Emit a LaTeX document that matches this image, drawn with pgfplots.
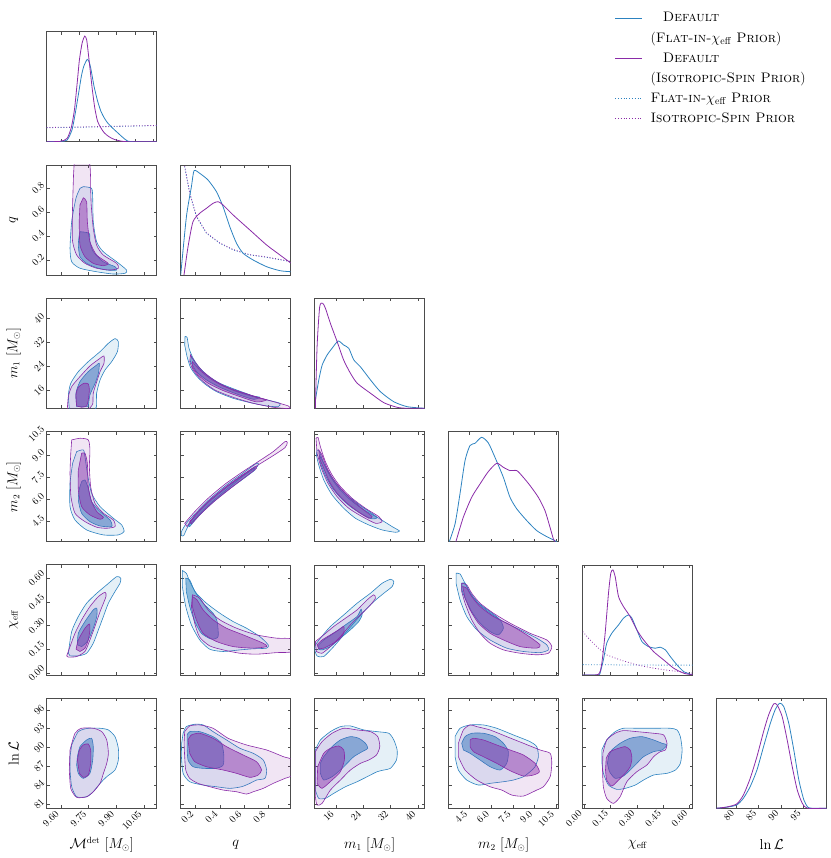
\documentclass[border=0pt]{standalone}
\usepackage{graphicx}
\usepackage{pgfplots}
\pgfplotsset{compat=1.18}
\usepgfplotslibrary{groupplots}
\definecolor{cb}{RGB}{44,130,192}
\definecolor{cp}{RGB}{138,43,168}
\newcommand{\R}[1]{\rotatebox{45}{$#1$}}
\pgfplotsset{legend image code/.code={\draw[#1] (0cm,0cm) -- (0.95cm,0cm);}}
\pgfplotsset{
  corner/.style={width=110pt,height=110pt,scale only axis,
    tick align=inside, xtick pos=both, ytick pos=both,
    major tick length=3pt,
    axis line style={draw=black!70,line width=0.8pt},
    tick style={black!70,line width=0.5pt},
    xticklabels={}, yticklabels={},
    xticklabel style={anchor=north east,inner sep=1.5pt},
    yticklabel style={anchor=east,inner sep=1.5pt},
    tick label style={font=\fontsize{10}{12}\selectfont},
    label style={font=\fontsize{13.5}{16}\selectfont},
    xlabel style={at={(axis description cs:0.5,-0.33)},anchor=center},
    ylabel style={at={(axis description cs:-0.3,0.5)},anchor=center},
  },
  cA/.style={xmin=9.5225,xmax=10.119,xtick={9.60,9.75,9.90,10.05}},
  cB/.style={xmin=0.075,xmax=0.989,xtick={0.2,0.4,0.6,0.8}},
  cC/.style={xmin=9.7,xmax=42.0,xtick={16,24,32,40}},
  cD/.style={xmin=3.05,xmax=10.66,xtick={4.5,6.0,7.5,9.0,10.5}},
  cE/.style={xmin=-0.0074,xmax=0.617,xtick={0,0.15,0.30,0.45,0.60}},
  rB/.style={ymin=0.076,ymax=0.99,ytick={0.2,0.4,0.6,0.8}},
  rC/.style={ymin=10.0,ymax=46.67,ytick={16,24,32,40}},
  rD/.style={ymin=3.07,ymax=10.66,ytick={4.5,6.0,7.5,9.0,10.5}},
  rE/.style={ymin=-0.011,ymax=0.684,ytick={0,0.15,0.30,0.45,0.60}},
  rF/.style={ymin=80.3,ymax=97.87,ytick={81,84,87,90,93,96}},
  oneD/.style={ymin=0,ymax=110,ytick=\empty},
  bo/.style={draw=cb,fill=cb,fill opacity=0.12,line width=0.6pt,smooth,tension=0.4},
  bi/.style={draw=cb,fill=cb,fill opacity=0.5,line width=0.6pt,smooth,tension=0.4},
  po/.style={draw=cp,fill=cp,fill opacity=0.12,line width=0.6pt,smooth,tension=0.4},
  pi/.style={draw=cp,fill=cp,fill opacity=0.45,line width=0.6pt,smooth,tension=0.4},
  bl/.style={draw=cb,line width=0.8pt,smooth,tension=0.4},
  pl/.style={draw=cp,line width=0.8pt,smooth,tension=0.4},
  bd/.style={draw=cb,line width=0.8pt,dotted},
  pd/.style={draw=cp,line width=0.8pt,dotted},
}
\begin{document}
\begin{tikzpicture}
\begin{groupplot}[group style={group size=6 by 6,horizontal sep=24pt,vertical sep=23.3pt,group name=G},corner]
% ---------------- row 1
\nextgroupplot[cA,oneD,xtick={9.6,9.7,9.8,9.9,10.0,10.1},
  legend style={at={(axis description cs:5.135,1.213)},anchor=north west,draw=none,fill=none,
   font=\fontsize{13.8}{16}\selectfont,legend cell align=left,row sep=4.8pt,column sep=6pt}]
\addlegendimage{color=cb,solid,line width=0.8pt}
\addlegendimage{empty legend}
\addlegendimage{color=cp,solid,line width=0.8pt}
\addlegendimage{empty legend}
\addlegendimage{color=cb,dotted,line width=0.8pt}
\addlegendimage{color=cp,dotted,line width=0.8pt}
\legend{\hspace{0.9em}\textsc{Default},(\textsc{Flat-in-}$\chi_{\rm eff}$ \textsc{Prior}),\hspace{0.9em}\textsc{Default},(\textsc{Isotropic-Spin Prior}),\textsc{Flat-in-}$\chi_{\rm eff}$ \textsc{Prior},\textsc{Isotropic-Spin Prior}}
\addplot[bd] coordinates {(9.5225,14)(9.7,14.4)(9.9,15.2)(10.119,16.1)};
\addplot[pd] coordinates {(9.5225,14.2)(9.7,14.7)(9.9,15.5)(10.119,16.3)};
\addplot[bl] coordinates {(9.5225,0)(9.596,0.3)(9.633,1.6)(9.660,12)(9.678,29)(9.696,49)(9.711,66)(9.724,75.6)(9.742,82.3)(9.752,80)(9.761,74)(9.779,55.6)(9.798,41)(9.816,30.6)(9.834,24)(9.852,19)(9.880,13.6)(9.907,9)(9.935,4.3)(9.962,0.6)(9.999,0)(10.119,0)};
\addplot[pl] coordinates {(9.5225,0)(9.596,0.3)(9.633,3.3)(9.656,14.3)(9.673,32)(9.688,59)(9.700,82)(9.715,99)(9.729,105.6)(9.739,102)(9.746,92)(9.758,72)(9.770,52)(9.783,34)(9.798,20.6)(9.816,14)(9.834,9)(9.860,5)(9.889,2.3)(9.926,0.6)(9.962,0)(10.119,0)};
\nextgroupplot[group/empty plot]
\nextgroupplot[group/empty plot]
\nextgroupplot[group/empty plot]
\nextgroupplot[group/empty plot]
\nextgroupplot[group/empty plot]
% ---------------- row 2
\nextgroupplot[cA,rB,ylabel={$q$},yticklabels={\R{0.2},\R{0.4},\R{0.6},\R{0.8}}]
\addplot[bo] coordinates {(9.721,0.810)(9.766,0.796)(9.772,0.713)(9.775,0.519)(9.793,0.353)(9.829,0.270)(9.902,0.186)(9.956,0.117)(9.947,0.090)(9.883,0.084)(9.793,0.103)(9.703,0.132)(9.658,0.186)(9.649,0.298)(9.658,0.519)(9.681,0.713)(9.703,0.796)} -- cycle;
\addplot[bi] coordinates {(9.703,0.436)(9.753,0.422)(9.757,0.353)(9.775,0.270)(9.829,0.186)(9.893,0.145)(9.902,0.117)(9.848,0.117)(9.793,0.137)(9.739,0.173)(9.703,0.228)(9.694,0.325)(9.699,0.408)} -- cycle;
\addplot[po] coordinates {(9.672,1.02)(9.750,1.02)(9.760,0.907)(9.761,0.796)(9.764,0.658)(9.775,0.464)(9.793,0.325)(9.829,0.242)(9.902,0.173)(9.911,0.132)(9.866,0.117)(9.793,0.132)(9.730,0.173)(9.685,0.242)(9.663,0.353)(9.661,0.519)(9.664,0.713)(9.668,0.907)} -- cycle;
\addplot[pi] coordinates {(9.721,0.718)(9.739,0.685)(9.743,0.519)(9.757,0.353)(9.793,0.242)(9.856,0.173)(9.829,0.153)(9.775,0.173)(9.730,0.228)(9.703,0.325)(9.699,0.519)(9.703,0.658)} -- cycle;
\nextgroupplot[cB,oneD]
\addplot[bd] coordinates {(0.108,108.3)(0.15,81.7)(0.206,58.3)(0.289,41.7)(0.4,31.7)(0.511,25)(0.65,20)(0.789,17.7)(0.989,13.3)};
\addplot[pd] coordinates {(0.108,109)(0.15,82)(0.206,58.8)(0.289,42.2)(0.4,32)(0.511,25.5)(0.65,20.3)(0.789,18)(0.989,13.6)};
\addplot[bl] coordinates {(0.075,0)(0.1225,58.3)(0.164,88.3)(0.186,104.3)(0.233,101.7)(0.302,95)(0.372,83.3)(0.427,68.3)(0.483,48.3)(0.539,31.7)(0.594,21.7)(0.677,15)(0.789,8.3)(0.9,4.3)(0.989,3.3)};
\addplot[pl] coordinates {(0.1025,0)(0.136,28.3)(0.177,53.3)(0.233,61.7)(0.289,66.7)(0.344,71.7)(0.386,73.3)(0.427,70)(0.511,60)(0.58,52.5)(0.650,45)(0.789,30)(0.9,20)(0.989,12)};
\nextgroupplot[group/empty plot]
\nextgroupplot[group/empty plot]
\nextgroupplot[group/empty plot]
\nextgroupplot[group/empty plot]
% ---------------- row 3
\nextgroupplot[cA,rC,ylabel={$m_1\ [M_\odot]$},yticklabels={\R{16},\R{24},\R{32},\R{40}}]
\addplot[bo] coordinates {(9.645,10.0)(9.640,14.45)(9.653,18.34)(9.694,22.23)(9.748,25.56)(9.812,28.89)(9.857,31.67)(9.893,33.23)(9.911,32.23)(9.906,28.89)(9.875,25.56)(9.839,22.78)(9.812,19.45)(9.793,15.0)(9.784,9.5)(9.645,9.5)} -- cycle;
\addplot[bi] coordinates {(9.685,10.56)(9.681,15.0)(9.703,18.9)(9.748,22.23)(9.794,24.45)(9.808,25.0)(9.803,21.67)(9.785,18.34)(9.757,14.45)(9.748,10.56)} -- cycle;
\addplot[po] coordinates {(9.634,9.5)(9.640,13.9)(9.658,17.23)(9.703,20.56)(9.757,24.12)(9.812,26.67)(9.833,27.45)(9.833,25.0)(9.812,22.23)(9.794,18.9)(9.775,15.0)(9.772,11.45)(9.748,9.5)} -- cycle;
\addplot[pi] coordinates {(9.685,10.78)(9.681,14.45)(9.694,17.0)(9.725,18.34)(9.748,18.12)(9.754,16.12)(9.748,12.78)(9.739,10.78)(9.712,10.34)} -- cycle;
\nextgroupplot[cB,rC]
\addplot[bo] coordinates {(0.111,33.9)(0.128,33.67)(0.144,30.0)(0.178,26.67)(0.228,23.67)(0.303,20.79)(0.400,18.12)(0.539,15.56)(0.678,13.9)(0.817,12.56)(0.900,11.67)(0.886,10.56)(0.789,10.79)(0.650,11.9)(0.511,13.34)(0.372,15.56)(0.275,18.12)(0.206,20.79)(0.156,23.67)(0.128,27.23)(0.108,31.12)} -- cycle;
\addplot[bi] coordinates {(0.164,27.23)(0.206,24.45)(0.289,21.12)(0.400,18.34)(0.539,16.12)(0.678,14.12)(0.733,13.67)(0.678,13.01)(0.539,14.79)(0.400,17.01)(0.289,19.45)(0.206,22.23)(0.156,25.56)} -- cycle;
\addplot[po] coordinates {(0.156,27.78)(0.192,25.56)(0.261,22.23)(0.372,18.9)(0.511,16.12)(0.678,14.12)(0.844,12.23)(0.969,10.79)(0.977,9.9)(0.844,10.34)(0.678,11.67)(0.511,13.67)(0.358,16.12)(0.247,19.45)(0.178,22.79)(0.150,25.56)} -- cycle;
\addplot[pi] coordinates {(0.172,25.56)(0.233,22.79)(0.317,20.0)(0.428,17.45)(0.567,15.56)(0.705,13.67)(0.789,12.79)(0.705,12.12)(0.567,13.9)(0.428,15.9)(0.303,18.34)(0.220,21.12)(0.172,23.67)} -- cycle;
\nextgroupplot[cC,oneD]
\addplot[bl] coordinates {(9.9,8.3)(10.9,28.3)(11.9,43.3)(13.35,53.3)(14.8,60)(16.6,67.3)(18.2,63.3)(19.7,60)(21.2,48.3)(23.1,41.6)(26.1,28.3)(29.0,16.6)(32.9,6.6)(36.9,1.6)(42.0,0)};
\addplot[pl] coordinates {(9.9,0)(10.4,61.6)(11.17,101.6)(12.05,105)(12.85,100)(14.3,85)(16.3,66.6)(18.2,48.3)(20.2,35)(22.2,25)(26.1,15)(30.0,5.6)(33.9,1)(36.9,0)(42,0)};
\nextgroupplot[group/empty plot]
\nextgroupplot[group/empty plot]
\nextgroupplot[group/empty plot]
% ---------------- row 4
\nextgroupplot[cA,rD,ylabel={$m_2\ [M_\odot]$},yticklabels={\R{4.5},\R{6.0},\R{7.5},\R{9.0},\R{10.5}}]
\addplot[bo] coordinates {(9.685,9.28)(9.721,9.40)(9.730,8.935)(9.743,7.785)(9.766,6.405)(9.812,5.485)(9.884,4.68)(9.929,4.22)(9.942,3.76)(9.911,3.53)(9.830,3.53)(9.739,3.875)(9.676,4.565)(9.649,5.485)(9.649,7.095)(9.663,8.475)} -- cycle;
\addplot[bi] coordinates {(9.712,7.21)(9.730,7.325)(9.748,6.75)(9.766,5.83)(9.812,5.14)(9.866,4.565)(9.875,4.105)(9.812,4.15)(9.757,4.45)(9.712,5.025)(9.694,5.945)(9.700,6.75)} -- cycle;
\addplot[po] coordinates {(9.658,10.085)(9.703,10.2)(9.748,10.09)(9.757,9.40)(9.754,8.245)(9.761,6.865)(9.784,5.715)(9.830,5.025)(9.884,4.565)(9.893,4.105)(9.848,3.99)(9.794,4.06)(9.730,4.45)(9.676,5.025)(9.654,6.175)(9.649,7.785)(9.653,9.165)} -- cycle;
\addplot[pi] coordinates {(9.712,9.165)(9.730,9.165)(9.743,8.475)(9.748,6.865)(9.766,5.83)(9.794,5.14)(9.830,4.75)(9.812,4.61)(9.757,4.91)(9.712,5.485)(9.694,6.635)(9.694,8.015)} -- cycle;
\nextgroupplot[cB,rD]
\addplot[bo] coordinates {(0.081,3.76)(0.122,4.335)(0.206,5.094)(0.317,6.014)(0.456,6.98)(0.580,7.716)(0.692,8.406)(0.719,8.475)(0.711,8.245)(0.608,7.67)(0.469,6.75)(0.331,5.784)(0.219,4.864)(0.136,4.105)(0.100,3.484)(0.081,3.484)} -- cycle;
\addplot[bi] coordinates {(0.136,4.22)(0.219,5.025)(0.331,5.945)(0.456,6.796)(0.580,7.555)(0.678,8.13)(0.692,8.015)(0.594,7.394)(0.469,6.635)(0.344,5.784)(0.233,4.91)(0.150,4.105)} -- cycle;
\addplot[po] coordinates {(0.108,4.335)(0.192,5.14)(0.303,6.06)(0.442,7.026)(0.580,7.831)(0.719,8.59)(0.844,9.28)(0.942,9.97)(0.961,9.901)(0.942,9.556)(0.844,9.004)(0.719,8.36)(0.580,7.624)(0.442,6.796)(0.303,5.83)(0.192,4.864)(0.128,4.105)} -- cycle;
\addplot[pi] coordinates {(0.150,4.45)(0.233,5.255)(0.344,6.106)(0.469,6.934)(0.594,7.67)(0.692,8.245)(0.705,8.13)(0.608,7.509)(0.483,6.704)(0.358,5.876)(0.247,5.025)(0.164,4.289)} -- cycle;
\nextgroupplot[cC,rD]
\addplot[bo] coordinates {(10.39,9.395)(11.07,9.28)(12.35,8.475)(14.31,7.555)(16.76,6.75)(20.19,5.945)(24.11,5.255)(28.52,4.68)(32.44,4.105)(34.59,3.806)(33.42,3.714)(29.5,3.875)(25.58,4.22)(21.66,4.68)(18.23,5.37)(14.8,6.29)(12.35,7.325)(10.88,8.36)(10.19,9.05)} -- cycle;
\addplot[bi] coordinates {(11.07,9.05)(12.35,8.475)(14.31,7.67)(16.76,6.865)(19.7,6.175)(23.13,5.554)(26.07,5.094)(28.03,4.726)(26.56,4.634)(23.62,4.956)(20.19,5.485)(17.25,6.106)(14.8,6.796)(12.84,7.624)(11.37,8.475)} -- cycle;
\addplot[po] coordinates {(10.09,10.2)(10.68,10.25)(11.37,9.625)(12.84,8.59)(14.80,7.67)(17.25,6.865)(20.68,6.06)(24.6,5.37)(28.52,4.795)(29.5,4.45)(27.54,4.335)(23.62,4.795)(19.7,5.37)(16.27,6.175)(13.62,7.095)(11.66,8.13)(10.39,9.165)} -- cycle;
\addplot[pi] coordinates {(10.88,9.395)(11.86,9.05)(13.33,8.13)(15.29,7.325)(17.74,6.635)(20.68,5.945)(24.11,5.255)(26.56,4.795)(25.58,4.68)(22.64,5.094)(19.21,5.715)(16.27,6.405)(14.01,7.21)(12.35,8.13)(11.07,8.82)} -- cycle;
\nextgroupplot[cD,oneD]
\addplot[bl] coordinates {(3.09,0)(3.49,17.7)(3.83,47.7)(4.18,81)(4.52,96)(4.87,98.3)(5.33,104.3)(5.79,98.7)(6.25,84.3)(6.83,64.3)(7.29,44.3)(7.76,32.7)(8.45,21)(9.14,11)(9.83,5)(10.52,0)};
\addplot[pl] coordinates {(3.55,0)(4.06,24.3)(4.64,44.3)(5.22,57.7)(5.79,70)(6.37,78.3)(6.83,74.3)(7.29,71)(7.76,71)(8.21,64.3)(8.68,56)(9.25,44.3)(9.71,31)(10.06,14.3)(10.29,2.7)(10.41,0)};
\nextgroupplot[group/empty plot]
\nextgroupplot[group/empty plot]
% ---------------- row 5
\nextgroupplot[cA,rE,ylabel={$\chi_{\rm eff}$},yticklabels={\R{0.00},\R{0.15},\R{0.30},\R{0.45},\R{0.60}}]
\addplot[bo] coordinates {(9.640,0.126)(9.658,0.263)(9.694,0.358)(9.739,0.442)(9.794,0.505)(9.848,0.558)(9.902,0.610)(9.924,0.600)(9.920,0.568)(9.893,0.516)(9.857,0.442)(9.830,0.358)(9.803,0.274)(9.775,0.189)(9.739,0.126)(9.694,0.109)(9.649,0.109)} -- cycle;
\addplot[bi] coordinates {(9.689,0.179)(9.694,0.252)(9.730,0.326)(9.775,0.400)(9.794,0.410)(9.794,0.358)(9.772,0.274)(9.743,0.200)(9.712,0.168)} -- cycle;
\addplot[po] coordinates {(9.631,0.109)(9.649,0.168)(9.676,0.252)(9.712,0.337)(9.757,0.421)(9.803,0.484)(9.839,0.511)(9.844,0.484)(9.812,0.389)(9.784,0.295)(9.757,0.210)(9.730,0.137)(9.685,0.105)(9.640,0.101)} -- cycle;
\addplot[pi] coordinates {(9.682,0.151)(9.694,0.210)(9.730,0.284)(9.754,0.311)(9.757,0.274)(9.748,0.210)(9.730,0.158)(9.703,0.137)} -- cycle;
\nextgroupplot[cB,rE]
\addplot[bo] coordinates {(0.089,0.648)(0.122,0.631)(0.150,0.579)(0.205,0.505)(0.289,0.442)(0.400,0.379)(0.511,0.326)(0.622,0.284)(0.733,0.231)(0.802,0.179)(0.789,0.158)(0.678,0.154)(0.566,0.147)(0.428,0.137)(0.317,0.151)(0.233,0.210)(0.164,0.305)(0.117,0.421)(0.089,0.547)} -- cycle;
\addplot[bi] coordinates {(0.117,0.600)(0.150,0.589)(0.192,0.516)(0.261,0.442)(0.344,0.379)(0.378,0.326)(0.386,0.231)(0.330,0.215)(0.247,0.252)(0.192,0.326)(0.150,0.421)(0.122,0.515)} -- cycle;
\addplot[po] coordinates {(0.172,0.495)(0.233,0.474)(0.303,0.400)(0.400,0.337)(0.539,0.284)(0.705,0.242)(0.872,0.221)(1.0,0.215)(1.0,0.137)(0.872,0.130)(0.705,0.120)(0.566,0.126)(0.428,0.147)(0.317,0.172)(0.233,0.227)(0.191,0.316)(0.164,0.421)} -- cycle;
\addplot[pi] coordinates {(0.172,0.484)(0.211,0.463)(0.261,0.400)(0.344,0.337)(0.455,0.284)(0.594,0.242)(0.761,0.189)(0.789,0.168)(0.678,0.158)(0.511,0.168)(0.372,0.200)(0.261,0.252)(0.205,0.337)(0.172,0.421)} -- cycle;
\nextgroupplot[cC,rE]
\addplot[bo] coordinates {(9.896,0.179)(11.37,0.221)(14.31,0.295)(18.23,0.368)(22.15,0.442)(26.07,0.505)(29.5,0.568)(31.95,0.593)(32.93,0.579)(32.44,0.547)(29.99,0.505)(27.05,0.452)(24.11,0.389)(21.17,0.316)(18.23,0.242)(15.29,0.168)(12.35,0.105)(10.39,0.109)(9.7,0.147)} -- cycle;
\addplot[bi] coordinates {(10.88,0.179)(12.35,0.210)(15.29,0.252)(18.72,0.305)(22.15,0.358)(23.32,0.404)(23.62,0.368)(22.64,0.326)(20.19,0.274)(17.25,0.221)(14.31,0.168)(11.86,0.147)(10.88,0.151)} -- cycle;
\addplot[po] coordinates {(9.896,0.200)(12.35,0.242)(15.29,0.295)(18.72,0.347)(22.15,0.400)(25.09,0.463)(27.05,0.495)(27.54,0.474)(26.07,0.431)(23.13,0.368)(20.19,0.305)(17.25,0.231)(14.31,0.168)(11.86,0.126)(10.19,0.137)} -- cycle;
\addplot[pi] coordinates {(10.39,0.179)(11.86,0.210)(14.31,0.242)(16.76,0.274)(18.23,0.295)(18.23,0.252)(16.76,0.210)(14.31,0.179)(12.35,0.158)(10.88,0.154)} -- cycle;
\nextgroupplot[cD,rE]
\addplot[bo] coordinates {(3.559,0.631)(3.836,0.627)(4.182,0.568)(4.643,0.495)(5.22,0.431)(5.912,0.379)(6.835,0.326)(7.988,0.274)(9.142,0.221)(9.834,0.179)(9.949,0.147)(9.373,0.130)(8.219,0.137)(7.066,0.158)(5.912,0.210)(4.989,0.274)(4.297,0.358)(3.836,0.463)(3.559,0.568)} -- cycle;
\addplot[bi] coordinates {(3.951,0.568)(4.182,0.568)(4.528,0.505)(5.105,0.442)(5.912,0.389)(6.604,0.337)(6.835,0.284)(6.489,0.242)(5.912,0.263)(5.22,0.316)(4.643,0.389)(4.182,0.474)(3.951,0.526)} -- cycle;
\addplot[po] coordinates {(3.951,0.568)(4.297,0.558)(4.643,0.505)(5.22,0.442)(6.143,0.379)(7.296,0.316)(8.68,0.252)(9.834,0.210)(10.18,0.168)(9.949,0.126)(9.142,0.116)(7.988,0.126)(6.835,0.147)(5.912,0.189)(5.22,0.252)(4.643,0.337)(4.182,0.442)(3.951,0.516)} -- cycle;
\addplot[pi] coordinates {(4.02,0.547)(4.297,0.537)(4.643,0.484)(5.22,0.421)(6.143,0.358)(7.296,0.305)(8.45,0.242)(9.373,0.179)(9.142,0.158)(7.988,0.168)(6.835,0.210)(5.912,0.252)(5.105,0.316)(4.528,0.400)(4.182,0.474)} -- cycle;
\nextgroupplot[cE,oneD]
\addplot[bd] coordinates {(-0.0074,10.3)(0.2,10)(0.4,9.8)(0.617,9.8)};
\addplot[pd] coordinates {(-0.0074,43.3)(0.034,35)(0.0815,26.7)(0.129,20)(0.205,15)(0.300,10)(0.395,6.7)(0.490,4.3)(0.617,1.7)};
\addplot[bl] coordinates {(-0.0074,0)(0.08,0)(0.091,1.7)(0.110,15)(0.129,31.7)(0.158,41.7)(0.196,50)(0.224,56.7)(0.252,60)(0.272,56.7)(0.300,45)(0.329,33.3)(0.366,28.3)(0.405,26.7)(0.433,27.7)(0.462,25)(0.490,18.3)(0.528,10)(0.566,3.3)(0.614,0)};
\addplot[pl] coordinates {(-0.0074,0)(0.0815,0.6)(0.101,11.7)(0.120,41.7)(0.139,81.7)(0.152,101.7)(0.164,105)(0.177,98.3)(0.196,78.3)(0.224,68.3)(0.262,58.3)(0.300,45)(0.338,35)(0.395,23.3)(0.452,15)(0.509,6.7)(0.566,1.7)(0.617,0)};
\nextgroupplot[group/empty plot]
% ---------------- row 6
\nextgroupplot[cA,rF,ylabel={$\ln\mathcal{L}$},yticklabels={\R{81},\R{84},\R{87},\R{90},\R{93},\R{96}},
  xlabel={$\mathcal{M}^{\rm det}\ [M_\odot]$},xticklabels={\R{9.60},\R{9.75},\R{9.90},\R{10.05}}]
\addplot[bo] coordinates {(9.658,90.4)(9.694,92.53)(9.748,93.07)(9.812,93.07)(9.857,92.8)(9.893,91.73)(9.911,89.87)(9.911,88.0)(9.893,86.4)(9.848,85.33)(9.812,84.27)(9.775,82.93)(9.739,82.13)(9.685,82.13)(9.658,83.73)(9.649,86.4)(9.649,88.53)} -- cycle;
\addplot[bi] coordinates {(9.689,88.53)(9.703,90.13)(9.739,91.2)(9.766,91.47)(9.775,90.13)(9.772,88.0)(9.757,85.87)(9.721,85.07)(9.694,85.87)(9.685,87.2)} -- cycle;
\addplot[po] coordinates {(9.649,89.6)(9.676,92.27)(9.712,93.07)(9.775,93.07)(9.821,92.53)(9.848,91.2)(9.857,89.07)(9.848,87.47)(9.830,85.87)(9.812,84.27)(9.775,82.93)(9.739,82.13)(9.685,82.03)(9.653,83.47)(9.645,86.4)} -- cycle;
\addplot[pi] coordinates {(9.689,88.0)(9.700,89.6)(9.721,90.4)(9.748,90.56)(9.761,89.6)(9.761,87.47)(9.748,85.6)(9.721,85.23)(9.700,85.87)} -- cycle;
\nextgroupplot[cB,rF,xlabel={$q$},xticklabels={\R{0.2},\R{0.4},\R{0.6},\R{0.8}}]
\addplot[bo] coordinates {(0.095,92.27)(0.122,93.33)(0.192,93.71)(0.261,93.6)(0.344,92.53)(0.456,91.2)(0.567,89.87)(0.678,89.07)(0.761,88.0)(0.789,86.4)(0.775,85.07)(0.705,84.8)(0.650,84.27)(0.580,83.73)(0.483,83.47)(0.372,83.73)(0.261,84.0)(0.150,84.53)(0.095,85.87)(0.081,88.53)(0.083,90.67)} -- cycle;
\addplot[bi] coordinates {(0.128,92.0)(0.150,92.53)(0.233,92.53)(0.344,91.73)(0.414,90.67)(0.433,88.8)(0.428,87.2)(0.372,86.67)(0.261,86.67)(0.178,86.93)(0.136,88.0)(0.128,90.13)} -- cycle;
\addplot[po] coordinates {(0.108,92.53)(0.150,93.44)(0.233,93.6)(0.344,93.07)(0.469,91.47)(0.622,90.4)(0.789,89.6)(0.928,88.53)(1.0,88.0)(1.0,85.6)(0.942,85.07)(0.844,84.27)(0.761,83.47)(0.678,82.93)(0.622,82.56)(0.539,82.93)(0.428,83.2)(0.317,83.73)(0.219,84.27)(0.150,85.07)(0.117,86.4)(0.108,88.53)(0.103,90.67)} -- cycle;
\addplot[pi] coordinates {(0.136,91.2)(0.164,92.0)(0.233,92.27)(0.344,91.47)(0.456,90.13)(0.594,88.8)(0.705,87.73)(0.747,86.4)(0.719,85.6)(0.650,85.23)(0.539,85.87)(0.428,86.4)(0.289,86.93)(0.192,87.73)(0.150,89.07)} -- cycle;
\nextgroupplot[cC,rF,xlabel={$m_1\ [M_\odot]$},xticklabels={\R{16},\R{24},\R{32},\R{40}}]
\addplot[bo] coordinates {(9.896,89.6)(11.37,91.2)(14.31,92.53)(17.25,93.33)(20.19,93.44)(24.11,92.8)(28.03,92.53)(31.46,92.27)(32.93,91.2)(33.91,89.6)(33.71,88.0)(31.95,86.67)(29.99,86.4)(28.03,86.13)(25.09,85.33)(22.15,84.53)(18.72,83.73)(15.29,82.67)(12.84,81.87)(10.88,81.87)(9.896,83.2)} -- cycle;
\addplot[bi] coordinates {(11.37,87.47)(12.35,88.53)(14.8,90.13)(17.25,91.2)(20.19,91.73)(22.64,91.47)(24.6,90.67)(25.28,89.87)(23.62,89.33)(21.17,88.53)(19.21,87.47)(17.25,86.4)(14.8,85.33)(12.35,84.8)(11.37,85.87)} -- cycle;
\addplot[po] coordinates {(9.896,89.33)(11.86,90.93)(14.8,92.27)(18.23,93.07)(22.15,92.8)(26.07,92.53)(28.22,91.73)(28.81,90.13)(27.83,88.8)(25.58,88.0)(23.13,87.47)(20.19,86.4)(17.25,84.8)(14.31,83.2)(11.86,81.07)(10.39,80.8)(9.896,82.13)} -- cycle;
\addplot[pi] coordinates {(10.58,86.93)(12.35,89.07)(14.31,89.87)(16.76,90.24)(18.23,89.6)(18.42,88.0)(17.25,86.13)(14.8,84.8)(11.86,83.47)(10.39,84.27)} -- cycle;
\nextgroupplot[cD,rF,xlabel={$m_2\ [M_\odot]$},xticklabels={\R{4.5},\R{6.0},\R{7.5},\R{9.0},\R{10.5}}]
\addplot[bo] coordinates {(3.49,91.73)(3.836,93.07)(4.528,93.6)(5.451,93.6)(6.373,93.07)(7.527,92.0)(8.68,90.93)(9.142,90.13)(9.257,88.53)(9.026,86.93)(8.68,86.13)(8.219,85.33)(7.527,84.8)(6.835,84.53)(5.912,84.27)(5.105,84.0)(4.297,84.8)(3.72,86.4)(3.49,88.53)} -- cycle;
\addplot[bi] coordinates {(3.951,90.67)(4.182,91.73)(4.643,92.27)(5.451,92.27)(6.258,91.73)(6.835,90.67)(7.181,89.33)(7.066,87.47)(6.604,86.4)(5.912,86.93)(5.22,88.0)(4.528,89.07)(4.066,89.6)} -- cycle;
\addplot[po] coordinates {(3.72,90.67)(4.066,92.8)(4.528,93.6)(4.989,93.33)(5.912,92.8)(7.066,91.73)(8.219,90.67)(9.373,89.6)(10.07,89.07)(10.18,87.47)(10.07,85.33)(9.603,83.73)(9.142,83.2)(8.219,82.24)(7.411,82.4)(6.719,83.2)(5.912,83.73)(4.989,84.8)(4.182,86.4)(3.72,88.53)} -- cycle;
\addplot[pi] coordinates {(4.528,91.2)(4.759,91.47)(5.451,91.2)(6.373,90.4)(7.296,89.6)(8.219,88.8)(9.026,87.47)(9.326,86.13)(8.911,85.6)(8.219,85.44)(7.296,86.29)(6.373,87.47)(5.451,88.53)(4.759,89.33)(4.528,90.13)} -- cycle;
\nextgroupplot[cE,rF,xlabel={$\chi_{\rm eff}$},xticklabels={\R{0.00},\R{0.15},\R{0.30},\R{0.45},\R{0.60}}]
\addplot[bo] coordinates {(0.101,89.6)(0.129,91.2)(0.177,92.53)(0.224,93.07)(0.300,93.07)(0.395,93.07)(0.490,93.07)(0.528,92.8)(0.547,91.73)(0.557,89.6)(0.547,87.47)(0.519,86.4)(0.471,85.87)(0.395,85.6)(0.338,84.8)(0.291,84.0)(0.234,83.47)(0.186,83.31)(0.139,84.0)(0.110,85.87)(0.101,87.73)} -- cycle;
\addplot[bi] coordinates {(0.139,88.53)(0.158,89.6)(0.205,90.67)(0.262,91.47)(0.329,91.73)(0.395,91.2)(0.443,90.67)(0.471,90.4)(0.443,89.6)(0.395,89.33)(0.338,88.53)(0.300,87.47)(0.262,86.4)(0.224,85.44)(0.177,85.07)(0.145,86.13)(0.133,87.47)} -- cycle;
\addplot[po] coordinates {(0.107,89.07)(0.129,91.2)(0.177,92.27)(0.224,92.7)(0.300,92.53)(0.395,92.27)(0.452,92.0)(0.471,90.67)(0.462,89.6)(0.433,89.33)(0.395,88.53)(0.357,87.2)(0.300,86.13)(0.243,84.53)(0.205,82.13)(0.167,81.07)(0.129,81.87)(0.110,83.73)(0.105,86.4)} -- cycle;
\addplot[pi] coordinates {(0.126,88.27)(0.148,89.33)(0.196,89.87)(0.234,90.13)(0.262,89.6)(0.272,88.27)(0.262,86.93)(0.234,85.87)(0.196,84.8)(0.158,83.84)(0.129,84.8)(0.122,86.4)} -- cycle;
\nextgroupplot[xmin=75.6,xmax=100.3,xtick={80,85,90,95},oneD,xlabel={$\ln\mathcal{L}$},xticklabels={\R{80},\R{85},\R{90},\R{95}}]
\addplot[bl] coordinates {(75.6,0)(77.86,1)(80.12,3.3)(81.6,10)(83.13,21.7)(84.64,38.3)(86.13,61.7)(87.65,85)(88.78,99)(89.75,105)(90.65,101.7)(91.78,85)(92.91,58.3)(94.04,28.3)(95.17,8.3)(96.08,1)(97,0)(100.3,0)};
\addplot[pl] coordinates {(75.6,0)(77.86,1.2)(80.12,4.3)(81.6,13.3)(83.13,30)(84.64,51.7)(86.13,76.7)(87.26,93.3)(88.39,104.3)(89.16,103.3)(90.29,91.7)(91.42,68.3)(92.55,41.7)(93.68,18.3)(94.81,5)(95.94,0)(100.3,0)};
\end{groupplot}
\pgfresetboundingbox
\path[use as bounding box] ([xshift=-46.7pt,yshift=31.7pt]G c1r1.north west) rectangle ++(830pt,-858pt);
\end{tikzpicture}
\end{document}
